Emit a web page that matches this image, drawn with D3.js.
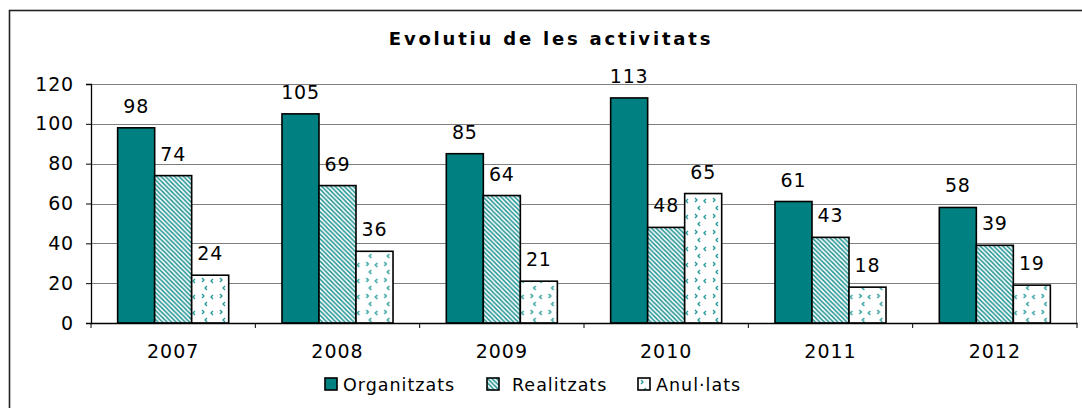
<!DOCTYPE html>
<html>
<head>
<meta charset="utf-8">
<script src="https://cdn.jsdelivr.net/npm/d3@7"></script>
<style>
  body { margin: 0; background: #fff; }
  text { font-family: "DejaVu Sans", Verdana, sans-serif; fill: #000; }
</style>
</head>
<body>
<div id="wrapper"></div>
<script>
const years = ["2007", "2008", "2009", "2010", "2011", "2012"]
const seriesNames = ["Organitzats", "Realitzats", "Anul·lats"]
const organitzats = [98, 105, 85, 113, 61, 58]
const realitzats = [74, 69, 64, 48, 43, 39]
const anullats = [24, 36, 21, 65, 18, 19]
const yTicks = [0, 20, 40, 60, 80, 100, 120]

function drawBar() {
  const seriesValues = [organitzats, realitzats, anullats]
  const dataset = years.map((year, i) => ({
    year: year,
    values: seriesNames.map((name, j) => ({ name: name, value: seriesValues[j][i] }))
  }))

  let dimensions = {
    width: 1082,
    height: 408,
    margin: { top: 84, right: 5, bottom: 85, left: 91 },
  }
  dimensions.boundedWidth = dimensions.width - dimensions.margin.left - dimensions.margin.right
  dimensions.boundedHeight = dimensions.height - dimensions.margin.top - dimensions.margin.bottom

  const wrapper = d3.select("#wrapper")
    .append("svg")
    .attr("width", dimensions.width)
    .attr("height", dimensions.height)

  // patterns
  const defs = wrapper.append("defs")
  const stripes = defs.append("pattern")
    .attr("id", "stripes")
    .attr("patternUnits", "userSpaceOnUse")
    .attr("width", 4.5).attr("height", 4.5)
  stripes.append("rect").attr("width", 4.5).attr("height", 4.5).attr("fill", "#fff")
  stripes.append("path")
    .attr("d", "M-1,-1 L5.5,5.5 M-1,3.5 L1,5.5 M3.5,-1 L5.5,1")
    .attr("stroke", "#239494").attr("stroke-width", 1.5)

  const chevrons = defs.append("pattern")
    .attr("id", "chevrons")
    .attr("patternUnits", "userSpaceOnUse")
    .attr("width", 18).attr("height", 16)
  chevrons.append("rect").attr("width", 18).attr("height", 16).attr("fill", "#fff")
  const chev = [
    "M3,2 L5,4 L3,6", "M14,3 L12,5 L14,7",
    "M8,10 L6,12 L8,14"
  ]
  chevrons.selectAll("path").data(chev).enter().append("path")
    .attr("d", d => d)
    .attr("fill", "none")
    .attr("stroke", "#2a9a9a").attr("stroke-width", 1.4)

  const fills = ["#008080", "url(#stripes)", "url(#chevrons)"]

  // outer frame (cut off at right/bottom like the original)
  wrapper.append("rect")
    .attr("x", 9.5).attr("y", 10.5)
    .attr("width", 1200).attr("height", 600)
    .attr("fill", "none").attr("stroke", "#222").attr("stroke-width", 1.6)

  const bounds = wrapper.append("g")
    .attr("transform", `translate(${dimensions.margin.left}, ${dimensions.margin.top})`)

  const x0 = d3.scaleBand()
    .domain(years)
    .range([0, dimensions.boundedWidth])
    .padding(0)

  const x1 = d3.scaleBand()
    .domain(seriesNames)
    .range([0, x0.bandwidth()])
    .paddingInner(0)
    .paddingOuter(0.72)

  const yScaler = d3.scaleLinear()
    .domain([0, 120])
    .range([dimensions.boundedHeight, 0])

  // gridlines
  bounds.append("g").selectAll("line")
    .data(yTicks.filter(d => d > 0))
    .enter().append("line")
    .attr("x1", 0).attr("x2", dimensions.boundedWidth)
    .attr("y1", d => Math.round(yScaler(d)) + 0.5)
    .attr("y2", d => Math.round(yScaler(d)) + 0.5)
    .attr("stroke", "#7f7f7f").attr("stroke-width", 1)

  // right edge of plot area
  bounds.append("line")
    .attr("x1", dimensions.boundedWidth - 0.5).attr("x2", dimensions.boundedWidth - 0.5)
    .attr("y1", yScaler(120)).attr("y2", dimensions.boundedHeight)
    .attr("stroke", "#7f7f7f")

  // bars
  const groups = bounds.append("g").selectAll("g")
    .data(dataset)
    .enter().append("g")
    .attr("transform", d => `translate(${x0(d.year)}, 0)`)

  groups.selectAll("rect")
    .data(d => d.values)
    .enter().append("rect")
    .attr("x", d => x1(d.name))
    .attr("y", d => yScaler(d.value))
    .attr("width", x1.bandwidth())
    .attr("height", d => dimensions.boundedHeight - yScaler(d.value))
    .attr("fill", (d, i) => fills[i])
    .attr("stroke", "#000")
    .attr("stroke-width", 1.6)

  groups.selectAll("text")
    .data(d => d.values)
    .enter().append("text")
    .attr("x", d => x1(d.name) + x1.bandwidth() / 2)
    .attr("y", d => yScaler(d.value) - 15)
    .attr("text-anchor", "middle")
    .attr("font-size", "19px")
    .attr("letter-spacing", "0.8px")
    .text(d => d.value)

  // y axis
  const yAxis = bounds.append("g")
    .call(d3.axisLeft(yScaler).tickValues(yTicks).tickSize(5).tickPadding(12))
  yAxis.select(".domain").attr("stroke", "#000").attr("stroke-width", 1.3)
  yAxis.selectAll(".tick line").attr("stroke", "#000")
  yAxis.selectAll(".tick text")
    .attr("font-family", "DejaVu Sans, Verdana, sans-serif")
    .attr("font-size", "19px")
    .attr("letter-spacing", "0.8px")
    .attr("fill", "#000")

  // x axis
  const xAxis = bounds.append("g")
    .attr("transform", `translate(0, ${dimensions.boundedHeight})`)
    .call(d3.axisBottom(x0).tickSize(0).tickPadding(22))
  xAxis.select(".domain").attr("stroke", "#000").attr("stroke-width", 1.6)
  xAxis.selectAll(".tick text")
    .attr("font-family", "DejaVu Sans, Verdana, sans-serif")
    .attr("font-size", "19px")
    .attr("letter-spacing", "1px")
    .attr("fill", "#000")

  const boundaries = years.map(y => x0(y)).concat([dimensions.boundedWidth])
  xAxis.append("g").selectAll("line")
    .data(boundaries)
    .enter().append("line")
    .attr("x1", d => d).attr("x2", d => d)
    .attr("y1", 0).attr("y2", 5)
    .attr("stroke", "#000")

  // title
  wrapper.append("text")
    .attr("x", 551)
    .attr("y", 45)
    .attr("text-anchor", "middle")
    .attr("font-size", "18px")
    .attr("font-weight", "bold")
    .attr("letter-spacing", "2.8px")
    .text("Evolutiu de les activitats")

  // legend
  const legendX = [325, 487, 638]
  const legend = wrapper.append("g").selectAll("g")
    .data(seriesNames)
    .enter().append("g")
    .attr("transform", (d, i) => `translate(${legendX[i]}, 378)`)
  legend.append("rect")
    .attr("width", 12).attr("height", 12)
    .attr("fill", (d, i) => fills[i])
    .attr("stroke", "#000").attr("stroke-width", 1.6)
  legend.append("text")
    .attr("x", (d, i) => i === 1 ? 25 : 18)
    .attr("y", 13)
    .attr("font-size", "17.5px")
    .attr("letter-spacing", "1px")
    .text(d => d)
}

drawBar()
</script>
</body>
</html>
